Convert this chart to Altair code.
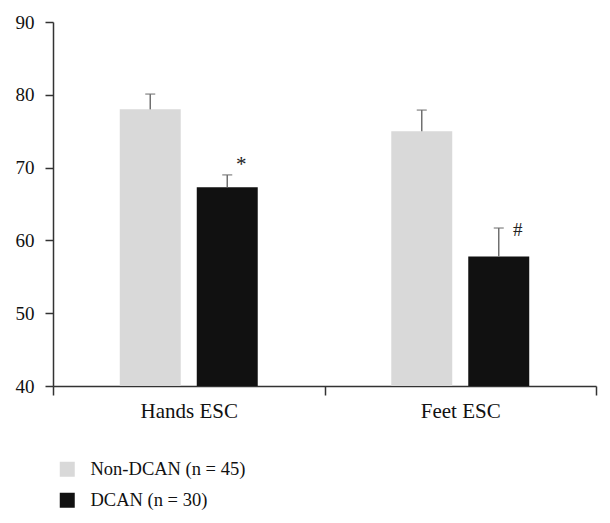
import altair as alt
import pandas as pd

categories = ["Hands ESC", "Hands ESC", "Feet ESC", "Feet ESC"]
groups = ["Non-DCAN (n = 45)", "DCAN (n = 30)", "Non-DCAN (n = 45)", "DCAN (n = 30)"]
means = [78.0, 67.3, 75.0, 57.8]
uppers = [80.1, 69.0, 77.9, 61.7]
markers = ["", "*", "", "#"]

cat_order = ["Hands ESC", "Feet ESC"]
group_order = ["Non-DCAN (n = 45)", "DCAN (n = 30)"]
y_ticks = [40, 50, 60, 70, 80, 90]

df = pd.DataFrame({
    "category": categories,
    "group": groups,
    "mean": means,
    "upper": uppers,
    "marker": markers,
})

FONT = "Liberation Serif"

x_enc = alt.X(
    "category:N",
    sort=cat_order,
    scale=alt.Scale(paddingInner=0, paddingOuter=0),
    axis=alt.Axis(title=None, labelAngle=0, tickBand="extent", tickSize=9,
                  labelPadding=5, labelFontSize=21),
)
xoff_enc = alt.XOffset(
    "group:N",
    sort=group_order,
    scale=alt.Scale(paddingInner=0.208, paddingOuter=0.867),
)
y_scale = alt.Scale(domain=[40, 90], zero=False, nice=False)

base = alt.Chart(df)

bars = base.mark_bar().encode(
    x=x_enc,
    xOffset=xoff_enc,
    y=alt.Y("mean:Q", scale=y_scale,
            axis=alt.Axis(title=None, values=y_ticks, tickSize=8, labelPadding=11,
                          labelFontSize=19, grid=False)),
    y2=alt.datum(40),
    color=alt.Color(
        "group:N",
        sort=group_order,
        scale=alt.Scale(domain=group_order, range=["#d9d9d9", "#111111"]),
        legend=alt.Legend(
            title=None, orient="none", legendX=5, legendY=438,
            symbolType="square", symbolSize=225, symbolStrokeWidth=0,
            labelFontSize=18.5, labelFont=FONT, labelColor="#111111",
            rowPadding=12, labelOffset=14, padding=0,
        ),
    ),
)

err = base.mark_rule(color="#707070", strokeWidth=1.5).encode(
    x=x_enc, xOffset=xoff_enc,
    y=alt.Y("mean:Q", scale=y_scale),
    y2="upper:Q",
)

caps = base.mark_tick(color="#707070", thickness=1.5, size=10).encode(
    x=x_enc, xOffset=xoff_enc,
    y=alt.Y("upper:Q", scale=y_scale),
)

star = base.transform_filter(alt.datum.marker == "*").mark_text(
    font=FONT, fontSize=21, color="#222222", dx=14, dy=-4, align="center", baseline="alphabetic"
).encode(x=x_enc, xOffset=xoff_enc, y=alt.Y("upper:Q", scale=y_scale), text="marker:N")

hash_ = base.transform_filter(alt.datum.marker == "#").mark_text(
    font=FONT, fontSize=19, color="#222222", dx=19, dy=8, align="center", baseline="alphabetic"
).encode(x=x_enc, xOffset=xoff_enc, y=alt.Y("upper:Q", scale=y_scale), text="marker:N")

chart = alt.layer(bars, err, caps, star, hash_).properties(
    width=543,
    height=364,
    autosize=alt.AutoSizeParams(type="none"),
    padding={"left": 45, "top": 14, "right": 6, "bottom": 129},
).configure_view(stroke=None).configure_axis(
    domainColor="#333333", domainWidth=1.5,
    tickColor="#333333", tickWidth=1.5,
    labelFont=FONT, labelFontSize=18, labelColor="#111111",
    grid=False,
)

chart.save("out.html", embed_options={"renderer": "svg", "actions": False})
